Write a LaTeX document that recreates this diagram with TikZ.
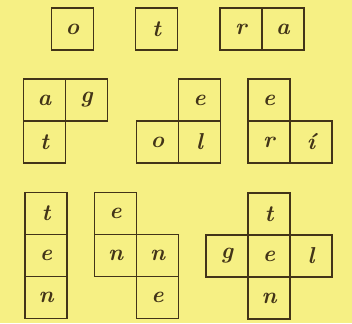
\documentclass[tikz,border=0pt]{standalone}
\usepackage{fontspec}
\setmainfont{Latin Modern Roman}
\definecolor{bg}{RGB}{246,240,132}
\definecolor{ink}{RGB}{66,52,24}
\begin{document}
\begin{tikzpicture}[x=1pt,y=-1pt,
  cell/.style={draw=ink,line width=1.8pt,minimum width=42pt,minimum height=42pt,inner sep=0pt,
    text=ink,font=\fontsize{23}{23}\selectfont\bfseries\itshape}]
\fill[bg] (0,0) rectangle (352,323);
\useasboundingbox (0,0) rectangle (352,323);
% row 1
\node[cell] (o1) at (72.5,29) {o};
\node[cell] (t1) at (156.5,29) {t};
\node[cell] (r1) at (241,29) {r};
\node[cell] (a1) at (283,29) {a};
% row 2
\node[cell] (a2) at (44.5,100) {a};
\node[cell] (g2) at (86.5,100) {g};
\node[cell] (t2) at (44.5,142) {t};
\node[cell] (e2) at (199.5,100) {e};
\node[cell] (o2) at (157.5,142) {o};
\node[cell] (l2) at (199.5,142) {l};
\node[cell] (e3) at (269,100) {e};
\node[cell] (r3) at (269,142) {r};
\node[cell] (i3) at (311,142) {í};
% row 3
\node[cell] (t4) at (46,213.5) {t};
\node[cell] (e4) at (46,255.5) {e};
\node[cell] (n4) at (46,297.5) {n};
\node[cell] (e5) at (115.5,213.5) {e};
\node[cell] (n5) at (115.5,255.5) {n};
\node[cell] (n6) at (157.5,255.5) {n};
\node[cell] (e6) at (157.5,297.5) {e};
\node[cell] (t7) at (269,214) {t};
\node[cell] (g7) at (227,256) {g};
\node[cell] (e7) at (269,256) {e};
\node[cell] (l7) at (311,256) {l};
\node[cell] (n7) at (269,298) {n};
\end{tikzpicture}
\end{document}
